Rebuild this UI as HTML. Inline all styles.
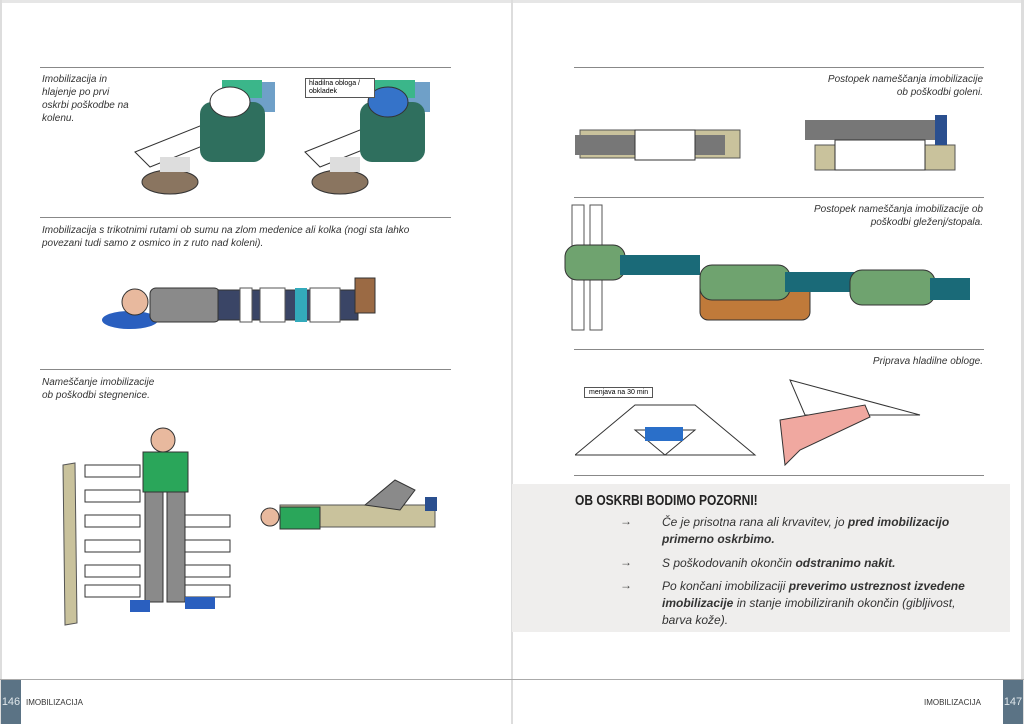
<!DOCTYPE html>
<html><head><meta charset="utf-8"><style>
body{margin:0;width:1024px;height:724px;background:#fff;position:relative;overflow:hidden;font-family:"Liberation Sans",sans-serif}
.a{position:absolute}
.cap{position:absolute;font-style:italic;font-size:10px;line-height:13px;color:#333}
.hr{position:absolute;height:1px;background:#888}
</style></head><body>
<div class="a" style="left:0;top:0;width:1024px;height:3px;background:#e6e6e6"></div>
<div class="a" style="left:511px;top:0;width:2px;height:724px;background:#ddd"></div>
<div class="a" style="left:0;top:0;width:2px;height:724px;background:#ddd"></div>
<div class="a" style="left:1021px;top:0;width:3px;height:724px;background:#ddd"></div>

<div class="hr" style="left:40px;top:67px;width:411px"></div>
<div class="cap" style="left:42px;top:73px">Imobilizacija in<br>hlajenje po prvi<br>oskrbi poškodbe na<br>kolenu.</div>
<svg class="a" style="left:130px;top:72px" width="320" height="130">
<rect x="100" y="10" width="45" height="30" fill="#6fa0c8"/><rect x="255" y="10" width="45" height="30" fill="#6fa0c8"/>
<rect x="92" y="8" width="40" height="18" fill="#3bb68a"/><rect x="245" y="8" width="40" height="18" fill="#3bb68a"/>
<polygon points="5,80 80,50 95,65 20,95" fill="#fff" stroke="#333"/><polygon points="175,80 250,50 265,65 190,95" fill="#fff" stroke="#333"/>
<rect x="70" y="30" width="65" height="60" rx="12" fill="#2f6f5e"/><rect x="230" y="30" width="65" height="60" rx="12" fill="#2f6f5e"/>
<ellipse cx="100" cy="30" rx="20" ry="15" fill="#fff" stroke="#333"/><ellipse cx="258" cy="30" rx="20" ry="15" fill="#3573c9" stroke="#333"/>
<ellipse cx="40" cy="110" rx="28" ry="12" fill="#8a7560" stroke="#333"/><ellipse cx="210" cy="110" rx="28" ry="12" fill="#8a7560" stroke="#333"/>
<rect x="30" y="85" width="30" height="15" fill="#ddd"/><rect x="200" y="85" width="30" height="15" fill="#ddd"/>
</svg>
<div class="a" style="left:305px;top:78px;width:62px;border:1px solid #555;background:#fff;font-size:7px;line-height:8px;padding:1px 3px">hladilna obloga /<br>obkladek</div>

<div class="hr" style="left:40px;top:217px;width:411px"></div>
<div class="cap" style="left:42px;top:224px">Imobilizacija s trikotnimi rutami ob sumu na zlom medenice ali kolka (nogi sta lahko<br>povezani tudi samo z osmico in z ruto nad koleni).</div>
<svg class="a" style="left:100px;top:270px" width="290" height="65">
<ellipse cx="30" cy="50" rx="28" ry="9" fill="#2a5fbf"/>
<circle cx="35" cy="32" r="13" fill="#e8b99e" stroke="#333"/>
<rect x="50" y="18" width="70" height="34" rx="6" fill="#8a8a8a" stroke="#333"/>
<rect x="118" y="20" width="140" height="30" fill="#3a4566" stroke="#333"/>
<rect x="140" y="18" width="12" height="34" fill="#fff" stroke="#555"/><rect x="160" y="18" width="25" height="34" fill="#fff" stroke="#555"/><rect x="195" y="18" width="12" height="34" fill="#3ab"/><rect x="210" y="18" width="30" height="34" fill="#fff" stroke="#555"/>
<rect x="255" y="8" width="20" height="35" fill="#9b6a44" stroke="#333"/>
</svg>

<div class="hr" style="left:40px;top:369px;width:411px"></div>
<div class="cap" style="left:42px;top:376px">Nameščanje imobilizacije<br>ob poškodbi stegnenice.</div>
<svg class="a" style="left:55px;top:425px" width="400" height="205">
<polygon points="8,40 20,38 22,198 10,200" fill="#c9c29c" stroke="#555"/>
<g fill="#fff" stroke="#333">
<rect x="30" y="40" width="55" height="12"/><rect x="30" y="65" width="55" height="12"/><rect x="30" y="90" width="55" height="12"/><rect x="30" y="115" width="55" height="12"/><rect x="30" y="140" width="55" height="12"/><rect x="30" y="160" width="55" height="12"/>
<rect x="115" y="90" width="60" height="12"/><rect x="115" y="115" width="60" height="12"/><rect x="115" y="140" width="60" height="12"/><rect x="115" y="160" width="60" height="12"/>
</g>
<circle cx="108" cy="15" r="12" fill="#e8b99e" stroke="#333"/>
<rect x="88" y="27" width="45" height="40" fill="#2aa65a" stroke="#333"/>
<rect x="90" y="67" width="18" height="110" fill="#8a8a8a" stroke="#333"/><rect x="112" y="67" width="18" height="110" fill="#8a8a8a" stroke="#333"/>
<rect x="75" y="175" width="20" height="12" fill="#2a5fbf"/><rect x="130" y="172" width="30" height="12" fill="#2a5fbf"/>
<circle cx="215" cy="92" r="9" fill="#e8b99e" stroke="#333"/>
<rect x="225" y="80" width="155" height="22" fill="#c9c29c" stroke="#555"/>
<rect x="225" y="82" width="40" height="22" fill="#2aa65a" stroke="#333"/>
<polygon points="310,80 340,55 360,65 345,85" fill="#8a8a8a" stroke="#333"/>
<rect x="370" y="72" width="12" height="14" fill="#2a4f8f"/>
</svg>

<div class="a" style="left:0;top:679px;width:1024px;height:1px;background:#aaa"></div>
<div class="a" style="left:1px;top:680px;width:20px;height:44px;background:#5b7385;color:#dfe6ea;font-size:11px;line-height:44px;text-align:center">146</div>
<div class="a" style="left:26px;top:698px;font-size:8px;color:#333">IMOBILIZACIJA</div>
<div class="a" style="left:1003px;top:680px;width:20px;height:44px;background:#5b7385;color:#dfe6ea;font-size:11px;line-height:44px;text-align:center">147</div>
<div class="a" style="left:924px;top:698px;font-size:8px;color:#333">IMOBILIZACIJA</div>

<div class="hr" style="left:574px;top:67px;width:410px"></div>
<div class="cap" style="left:600px;top:73px;width:383px;text-align:right">Postopek nameščanja imobilizacije<br>ob poškodbi goleni.</div>
<svg class="a" style="left:575px;top:95px" width="400" height="95">
<rect x="5" y="35" width="160" height="28" fill="#c9c29c" stroke="#555"/><rect x="0" y="40" width="150" height="20" fill="#777"/>
<rect x="60" y="35" width="60" height="30" fill="#fff" stroke="#333"/>
<rect x="230" y="25" width="140" height="20" fill="#777"/><rect x="240" y="50" width="140" height="25" fill="#c9c29c" stroke="#555"/><rect x="260" y="45" width="90" height="30" fill="#fff" stroke="#333"/>
<rect x="360" y="20" width="12" height="30" fill="#2a4f8f"/>
</svg>
<div class="hr" style="left:574px;top:197px;width:410px"></div>
<div class="cap" style="left:600px;top:203px;width:383px;text-align:right">Postopek nameščanja imobilizacije ob<br>poškodbi gleženj/stopala.</div>
<svg class="a" style="left:560px;top:200px" width="415" height="135">
<rect x="12" y="5" width="12" height="125" fill="#fff" stroke="#555"/><rect x="30" y="5" width="12" height="125" fill="#fff" stroke="#555"/>
<rect x="5" y="45" width="60" height="35" rx="12" fill="#6fa36f" stroke="#333"/><rect x="60" y="55" width="80" height="20" fill="#1a6a78"/>
<rect x="140" y="80" width="110" height="40" rx="8" fill="#c07a3a" stroke="#333"/><rect x="140" y="65" width="90" height="35" rx="12" fill="#6fa36f" stroke="#333"/><rect x="225" y="72" width="80" height="20" fill="#1a6a78"/>
<rect x="290" y="70" width="85" height="35" rx="12" fill="#6fa36f" stroke="#333"/><rect x="370" y="78" width="40" height="22" fill="#1a6a78"/>
</svg>
<div class="hr" style="left:574px;top:349px;width:410px"></div>
<div class="cap" style="left:600px;top:355px;width:383px;text-align:right">Priprava hladilne obloge.</div>
<svg class="a" style="left:575px;top:375px" width="400" height="95">
<polygon points="0,80 60,30 120,30 180,80" fill="#fff" stroke="#333"/>
<polygon points="60,55 120,55 90,80" fill="#fff" stroke="#333"/>
<rect x="70" y="52" width="38" height="14" fill="#2a6fc9"/>
<polygon points="215,5 345,40 230,40" fill="#fff" stroke="#333"/>
<polygon points="205,45 290,30 295,42 225,75 210,90" fill="#f0a8a0" stroke="#333"/>
</svg>
<div class="a" style="left:584px;top:387px;border:1px solid #555;background:#fff;font-size:7px;padding:1px 4px">menjava na 30 min</div>
<div class="hr" style="left:574px;top:475px;width:410px"></div>

<div class="a" style="left:512px;top:484px;width:498px;height:148px;background:#efeeed"></div>
<div class="a" style="left:575px;top:492px;font-size:15px;font-weight:bold;color:#222;transform:scaleX(.8);transform-origin:left">OB OSKRBI BODIMO POZORNI!</div>
<div class="a" style="left:620px;top:514px;font-size:12px;color:#444">→</div>
<div class="a" style="left:662px;top:514px;width:310px;font-size:12px;line-height:17px;font-style:italic;color:#333">Če je prisotna rana ali krvavitev, jo <b>pred imobilizacijo primerno oskrbimo.</b></div>
<div class="a" style="left:620px;top:555px;font-size:12px;color:#444">→</div>
<div class="a" style="left:662px;top:555px;width:310px;font-size:12px;line-height:17px;font-style:italic;color:#333">S poškodovanih okončin <b>odstranimo nakit.</b></div>
<div class="a" style="left:620px;top:578px;font-size:12px;color:#444">→</div>
<div class="a" style="left:662px;top:578px;width:310px;font-size:12px;line-height:17px;font-style:italic;color:#333">Po končani imobilizaciji <b>preverimo ustreznost izvedene imobilizacije</b> in stanje imobiliziranih okončin (gibljivost, barva kože).</div>
</body></html>
